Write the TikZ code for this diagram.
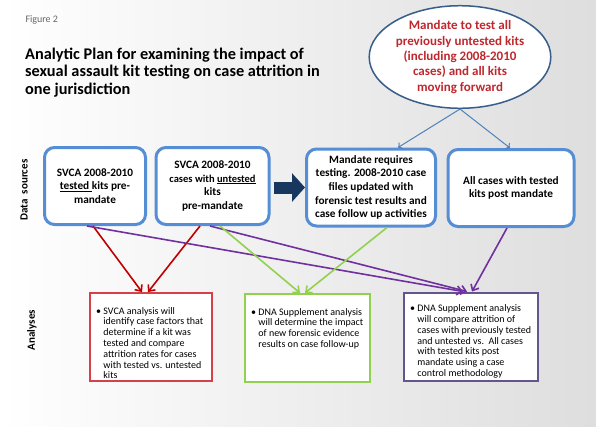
\documentclass[tikz,border=0pt]{standalone}
\usepackage{fontspec}
\setmainfont{Carlito}
\usetikzlibrary{shapes.geometric,arrows.meta}

\definecolor{srcblue}{RGB}{85,142,213}
\definecolor{ellblue}{RGB}{56,93,138}
\definecolor{lineblue}{RGB}{79,129,189}
\definecolor{mandred}{RGB}{192,39,45}
\definecolor{navy}{RGB}{23,55,94}
\definecolor{arred}{RGB}{192,0,0}
\definecolor{boxred}{RGB}{214,64,74}
\definecolor{argreen}{RGB}{146,208,80}
\definecolor{arpurple}{RGB}{112,48,160}
\definecolor{boxpurple}{RGB}{100,85,140}

\newcommand{\bul}{\textbullet\ }
\newcommand{\ind}{\hphantom{\textbullet\ }}

\tikzset{
  src/.style={draw=srcblue, line width=3pt, rounded corners=10pt, fill=white,
    align=center, inner sep=1pt, minimum height=77pt,
    font=\bfseries\fontsize{11.3}{13.6}\selectfont},
  anbox/.style={draw=#1, line width=2pt, fill=white, minimum height=88pt},
  antext/.style={anchor=north west, align=left, inner sep=0pt,
    font=\fontsize{10}{10.8}\selectfont},
  link/.style={line width=1.6pt, -{Straight Barb[length=5pt,width=9pt]}},
  axis/.style={rotate=90, font=\bfseries\fontsize{11}{13}\selectfont},
}

\begin{document}
\begin{tikzpicture}[x=1pt,y=-1pt]
\useasboundingbox (0,0) rectangle (596,426);
\shade[left color=white, right color=black!13] (0,0) rectangle (596,426);

\node[anchor=west, text=black!60, font=\fontsize{10}{12}\selectfont] (fig) at (22,20) {Figure 2};
\node[anchor=north west, align=left, inner sep=0pt,
  font=\bfseries\fontsize{16.3}{17.3}\selectfont] (title) at (25,48)
  {Analytic Plan for examining the impact of\\
   sexual assault kit testing on case attrition in\\
   one jurisdiction};

\node[ellipse, draw=ellblue, line width=1.5pt, fill=white, minimum width=172pt,
  minimum height=98pt, inner sep=0pt, align=center, text=mandred,
  font=\bfseries\fontsize{13}{15.3}\selectfont] (mand) at (460,57)
  {Mandate to test all\\ previously untested kits\\ (including 2008-2010\\
   cases) and all kits\\ moving forward};

\node[axis] (ds) at (24,190) {Data\ \ sources};
\node[axis] (an) at (32,330) {Analyses};

% data sources
\node[src, minimum width=101pt] (t) at (95,186)
  {SVCA 2008-2010\\ \underline{tested }kits pre-\\ mandate};
\node[src, minimum width=113pt] (u) at (212.5,186)
  {SVCA 2008-2010\\ {\fontsize{10.5}{13.6}\selectfont cases with \underline{untested}}\\ kits\\ pre-mandate};
\node[src, minimum width=129pt] (req) at (371,187.5)
  {Mandate requires\\ testing. 2008-2010 case\\ files updated with\\
   forensic test results and\\ case follow up activities};
\node[src, minimum width=126pt, font=\bfseries\fontsize{11.3}{12.5}\selectfont] (post) at (511,188)
  {All cases with tested\\ kits post mandate};

\draw[navy, line width=12pt, -{Triangle[length=13pt,width=28pt]}, shorten <=3pt]
  (u.east |- req.west) -- (req.west);
\draw[lineblue, line width=1pt, ->] (mand.south) -- ([xshift=27pt]req.north);
\draw[lineblue, line width=1pt, ->] (mand.south) -- ([xshift=-1pt]post.north);

% analyses
\node[anbox=boxred, minimum width=122pt] (svca) at (151,337) {};
\node[antext] (svcaT) at ([xshift=7pt,yshift=-15pt]svca.north west)
  {\bul SVCA analysis will\\ \ind identify case factors that\\ \ind determine if a kit was\\
   \ind tested and compare\\ \ind attrition rates for cases\\ \ind with tested vs. untested\\ \ind kits};
\node[anbox=argreen, minimum width=125pt] (dnaA) at (307.5,338) {};
\node[antext] (dnaAT) at ([xshift=7pt,yshift=-15pt]dnaA.north west)
  {\bul DNA Supplement analysis\\ \ind will determine the impact\\ \ind of new forensic evidence\\
   \ind results on case follow-up};
\node[anbox=boxpurple, minimum width=134pt] (dnaB) at (471,336.5) {};
\node[antext] (dnaBT) at ([xshift=7pt,yshift=-13pt]dnaB.north west)
  {\bul DNA Supplement analysis\\ \ind will compare attrition of\\ \ind cases with previously tested\\
   \ind and untested vs.\ \ All cases\\ \ind with tested kits post\\ \ind mandate using a case\\ \ind control methodology};

\draw[link, arred] ([xshift=-2pt]t.south) -- ([xshift=-9pt]svca.north);
\draw[link, arred] ([xshift=-12.5pt]u.south) -- ([xshift=-3pt]svca.north);
\draw[link, arpurple] ([xshift=-8pt]t.south) -- ([xshift=-8pt]dnaB.north);
\draw[link, arpurple] ([xshift=-2.5pt]u.south) -- ([xshift=-4pt]dnaB.north);
\draw[link, argreen] ([xshift=7.5pt]u.south) -- ([xshift=-7.5pt]dnaA.north);
\draw[link, argreen] ([xshift=16pt]req.south) -- ([xshift=-2.5pt]dnaA.north);
\draw[link, arpurple] ([xshift=-4pt]post.south) -- ([xshift=1pt]dnaB.north);
\end{tikzpicture}
\end{document}
